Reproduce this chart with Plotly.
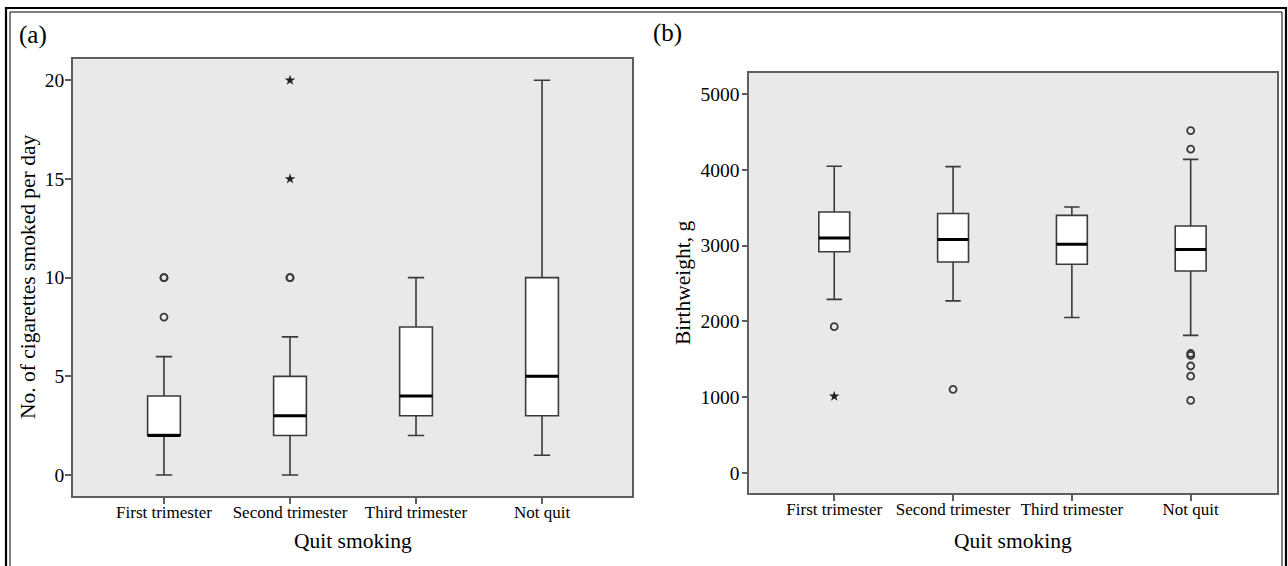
import plotly.graph_objects as go

W, H = 1288, 566

categories = ["First trimester", "Second trimester", "Third trimester", "Not quit"]
positions = [0, 1, 2, 3]

# Panel (a): cigarettes smoked per day
cig_lower = [0, 0, 2, 1]
cig_q1 = [2, 2, 3, 3]
cig_median = [2, 3, 4, 5]
cig_q3 = [4, 5, 7.5, 10]
cig_upper = [6, 7, 10, 20]
cig_circle_pos = [0, 0, 0, 1, 1]
cig_circle_val = [8, 10, 10, 10, 10]
cig_star_pos = [1, 1]
cig_star_val = [15, 20]

# Panel (b): birthweight, g
bw_lower = [2290, 2270, 2050, 1815]
bw_q1 = [2920, 2785, 2755, 2665]
bw_median = [3100, 3080, 3020, 2950]
bw_q3 = [3445, 3425, 3400, 3260]
bw_upper = [4050, 4045, 3510, 4140]
bw_circle_pos = [0, 1, 3, 3, 3, 3, 3, 3, 3]
bw_circle_val = [1930, 1100, 4520, 4275, 1575, 1550, 1410, 1275, 955]
bw_star_pos = [0]
bw_star_val = [1010]

FONT = "Liberation Serif, Times New Roman, serif"
BOX_W = 0.26
LINE_C = "#3a3a3a"
FRAME_C = "#5e5e5e"


def px_x(p):
    return p / W


def px_y(p):
    return 1 - p / H


fig = go.Figure()


def add_panel(xa, ya, lower, q1, med, q3, upper, cpos, cval, spos, sval):
    fig.add_trace(go.Box(
        x=positions, q1=q1, median=med, q3=q3, lowerfence=lower, upperfence=upper,
        width=BOX_W, whiskerwidth=0.5, fillcolor="white",
        line=dict(color=LINE_C, width=1.6), boxpoints=False,
        xaxis=xa, yaxis=ya, showlegend=False, hoverinfo="skip"))
    mx, my = [], []
    for p, m in zip(positions, med):
        mx += [p - BOX_W / 2, p + BOX_W / 2, None]
        my += [m, m, None]
    fig.add_trace(go.Scatter(x=mx, y=my, mode="lines",
                             line=dict(color="black", width=3),
                             xaxis=xa, yaxis=ya, showlegend=False, hoverinfo="skip"))
    fig.add_trace(go.Scatter(x=cpos, y=cval, mode="markers",
                             marker=dict(symbol="circle-open", size=7, color=LINE_C,
                                         line=dict(width=1.8, color=LINE_C)),
                             xaxis=xa, yaxis=ya, showlegend=False, hoverinfo="skip"))
    fig.add_trace(go.Scatter(x=spos, y=sval, mode="markers",
                             marker=dict(symbol="star", size=8, color="#222"),
                             xaxis=xa, yaxis=ya, showlegend=False, hoverinfo="skip"))


add_panel("x", "y", cig_lower, cig_q1, cig_median, cig_q3, cig_upper,
          cig_circle_pos, cig_circle_val, cig_star_pos, cig_star_val)
add_panel("x2", "y2", bw_lower, bw_q1, bw_median, bw_q3, bw_upper,
          bw_circle_pos, bw_circle_val, bw_star_pos, bw_star_val)

axis_common = dict(showline=True, linecolor=FRAME_C, linewidth=1.6, mirror=True,
                   showgrid=False, zeroline=False, ticks="outside", ticklen=6,
                   tickcolor=FRAME_C, tickwidth=1.5, automargin=False)

fig.update_layout(
    width=W, height=H,
    margin=dict(l=0, r=0, t=0, b=0),
    paper_bgcolor="white", plot_bgcolor="#e9e9e9",
    font=dict(family=FONT, color="black"),
    xaxis=dict(domain=[px_x(73), px_x(632)], range=[-0.722, 3.714],
               tickvals=positions, ticktext=categories, ticklabelstandoff=-6,
               tickfont=dict(size=17, family=FONT), anchor="y", **axis_common),
    yaxis=dict(domain=[px_y(496), px_y(59.3)], range=[-1.064, 21.064],
               tickvals=[0, 5, 10, 15, 20], ticklabelstandoff=-3,
               tickfont=dict(size=19.5, family=FONT), anchor="x", **axis_common),
    xaxis2=dict(domain=[px_x(749.3), px_x(1276.7)], range=[-0.715, 3.724],
                tickvals=positions, ticktext=categories, ticklabelstandoff=-6,
                tickfont=dict(size=17, family=FONT), anchor="y2", **axis_common),
    yaxis2=dict(domain=[px_y(493), px_y(72.5)], range=[-268, 5288],
                tickvals=[0, 1000, 2000, 3000, 4000, 5000], ticklabelstandoff=-2,
                tickfont=dict(size=19.5, family=FONT), anchor="x2", **axis_common),
)

annotations = [
    dict(text="(a)", x=px_x(33), y=px_y(35), font=dict(size=25)),
    dict(text="(b)", x=px_x(667), y=px_y(33), font=dict(size=25)),
    dict(text="No. of cigarettes smoked per day", x=px_x(28), y=px_y(277),
         textangle=-90, font=dict(size=21.5)),
    dict(text="Birthweight, g", x=px_x(683), y=px_y(283),
         textangle=-90, font=dict(size=21.5)),
    dict(text="Quit smoking", x=px_x(352.5), y=px_y(541), font=dict(size=21.5)),
    dict(text="Quit smoking", x=px_x(1013), y=px_y(541), font=dict(size=21.5)),
]
for a in annotations:
    a.update(xref="paper", yref="paper", showarrow=False,
             xanchor="center", yanchor="middle")
    a["font"]["family"] = FONT
    a["font"]["color"] = "black"
fig.update_layout(annotations=annotations)

fig.update_layout(shapes=[
    dict(type="rect", xref="paper", yref="paper",
         x0=px_x(6), x1=px_x(1286), y0=-0.05, y1=px_y(8),
         line=dict(color="black", width=2.2)),
    dict(type="rect", xref="paper", yref="paper",
         x0=px_x(10), x1=px_x(1282), y0=-0.05, y1=px_y(12),
         line=dict(color="black", width=1)),
])

fig.write_html(
    "out.html",
    config={"displayModeBar": False},
    post_script="document.body.style.margin='0';document.body.style.overflow='hidden';",
)
